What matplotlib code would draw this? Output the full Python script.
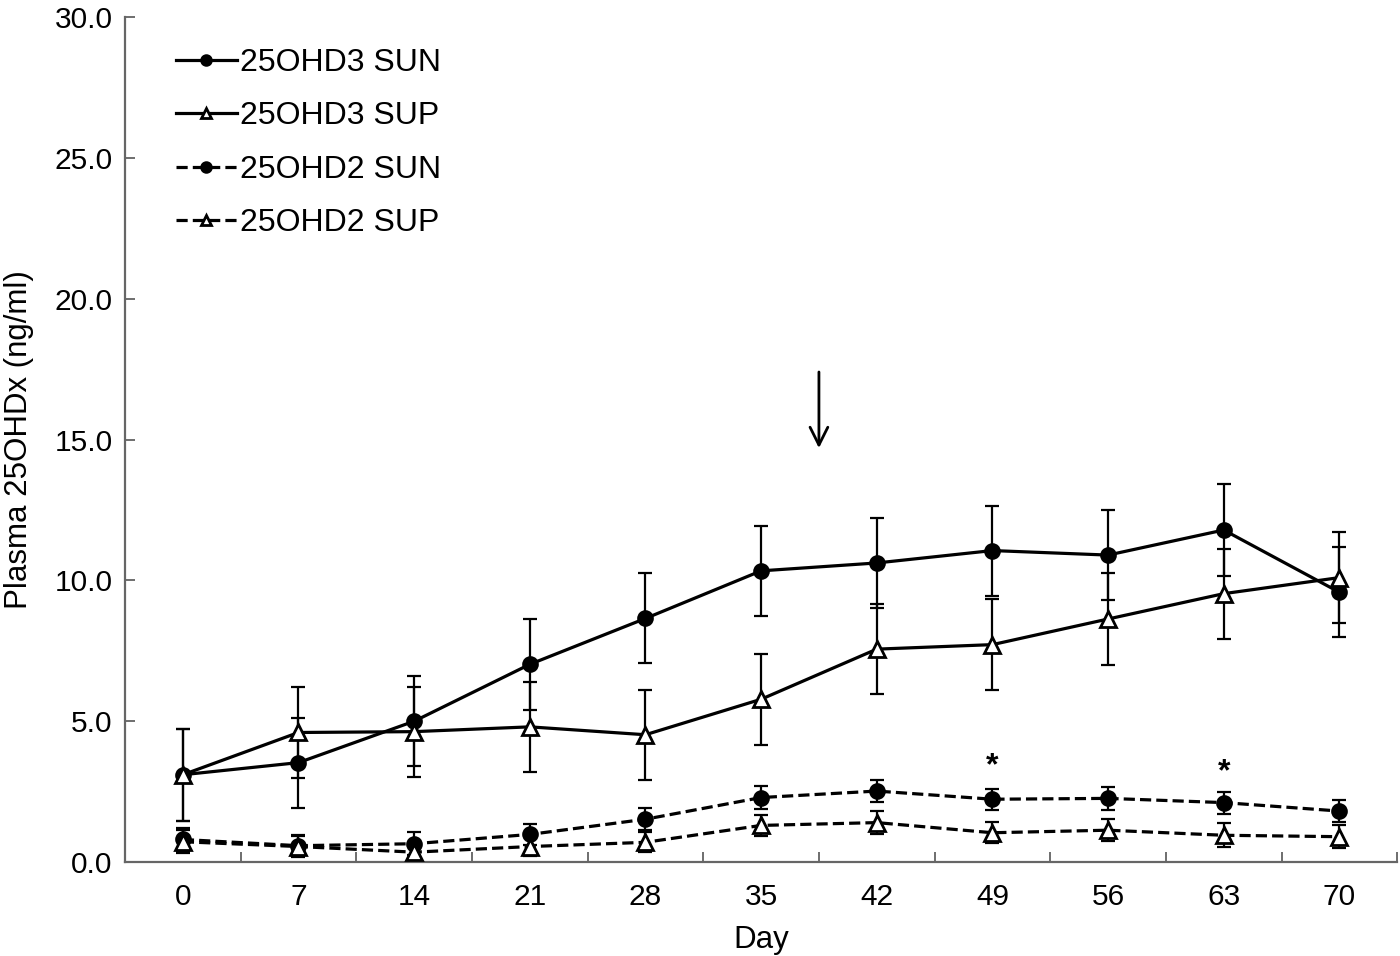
import matplotlib
matplotlib.use("Agg")
import matplotlib.pyplot as plt
import numpy as np

plt.rcParams['font.family'] = ['Liberation Sans', 'DejaVu Sans']

days = [0, 7, 14, 21, 28, 35, 42, 49, 56, 63, 70]

d3_sun = [3.10, 3.53, 5.00, 7.02, 8.65, 10.34, 10.62, 11.06, 10.90, 11.79, 9.58]
d3_sun_err = [1.63, 1.60, 1.60, 1.62, 1.60, 1.59, 1.60, 1.60, 1.60, 1.62, 1.60]
d3_sup = [3.10, 4.60, 4.63, 4.80, 4.52, 5.78, 7.56, 7.72, 8.63, 9.53, 10.10]
d3_sup_err = [1.63, 1.60, 1.60, 1.60, 1.60, 1.62, 1.60, 1.62, 1.62, 1.60, 1.62]
d2_sun = [0.80, 0.58, 0.65, 0.98, 1.52, 2.29, 2.52, 2.23, 2.26, 2.11, 1.81]
d2_sun_err = [0.40, 0.38, 0.40, 0.38, 0.40, 0.40, 0.40, 0.37, 0.42, 0.39, 0.40]
d2_sup = [0.72, 0.55, 0.35, 0.55, 0.70, 1.30, 1.40, 1.04, 1.13, 0.95, 0.90]
d2_sup_err = [0.40, 0.38, 0.25, 0.35, 0.35, 0.38, 0.40, 0.38, 0.40, 0.42, 0.40]

labels = ["25OHD3 SUN", "25OHD3 SUP", "25OHD2 SUN", "25OHD2 SUP"]
star_days = [49, 63]
star_y = [3.40, 3.20]
arrow_day = 38.5
arrow_from, arrow_to = 17.5, 14.6

yticks = [0, 5, 10, 15, 20, 25, 30]

fig = plt.figure(figsize=(14, 9.56), dpi=100)
ax = fig.add_axes([0.0893, 0.0983, 0.9087, 0.8837])

dash = (0, (3.5, 1.6))
series = [
    (d3_sun, d3_sun_err, '-', 'o', 'black'),
    (d3_sup, d3_sup_err, '-', '^', 'white'),
    (d2_sun, d2_sun_err, dash, 'o', 'black'),
    (d2_sup, d2_sup_err, dash, '^', 'white'),
]
handles = []
for (vals, errs, ls, mk, fc), lab in zip(series, labels):
    ax.errorbar(days, vals, yerr=errs, fmt='none', ecolor='black',
                elinewidth=1.6, capsize=4.7, capthick=1.6, zorder=2)
    ms = 10 if mk == 'o' else 11
    h, = ax.plot(days, vals, linestyle=ls, color='black', lw=2.3,
                 marker=mk, markersize=ms, markerfacecolor=fc,
                 markeredgecolor='black', markeredgewidth=2.0, label=lab, zorder=3)
    handles.append(h)

for d, y in zip(star_days, star_y):
    ax.text(d, y, '*', ha='center', va='center', fontsize=23, fontweight='bold')

ax.annotate('', xy=(arrow_day, arrow_to), xytext=(arrow_day, arrow_from),
            arrowprops=dict(arrowstyle='->', lw=2.0, color='black', mutation_scale=32))

ax.set_xlim(-3.5, 73.5)
ax.set_ylim(0, 30)
ax.set_xticks(days)
ax.set_xticklabels([str(d) for d in days])
ax.set_xticks(np.arange(-3.5, 74, 7), minor=True)
ax.set_yticks(yticks)
ax.set_yticklabels([f"{v:.1f}" for v in yticks])
ax.tick_params(axis='x', which='major', length=0, labelsize=21.5, pad=15)
ax.tick_params(axis='x', which='minor', direction='in', length=7, width=1.2, color='#555555')
ax.tick_params(axis='y', direction='in', length=7, width=1.2, color='#555555', labelsize=21.5, pad=9)

for s in ['top', 'right']:
    ax.spines[s].set_visible(False)
for s in ['left', 'bottom']:
    ax.spines[s].set_color('#666666')
    ax.spines[s].set_linewidth(1.6)

ax.set_xlabel('Day', fontsize=22.5, labelpad=10)
ax.set_ylabel('Plasma 25OHDx (ng/ml)', fontsize=22.5)
ax.yaxis.set_label_coords(-0.0716, 0.5)

leg = ax.legend(handles=handles, loc='upper left', bbox_to_anchor=(0.040, 0.9635),
                frameon=False, fontsize=23, handlelength=1.9, handletextpad=0.12,
                labelspacing=0.73, markerscale=0.7, borderaxespad=0, borderpad=0)

fig.savefig('out.png', dpi=100)
